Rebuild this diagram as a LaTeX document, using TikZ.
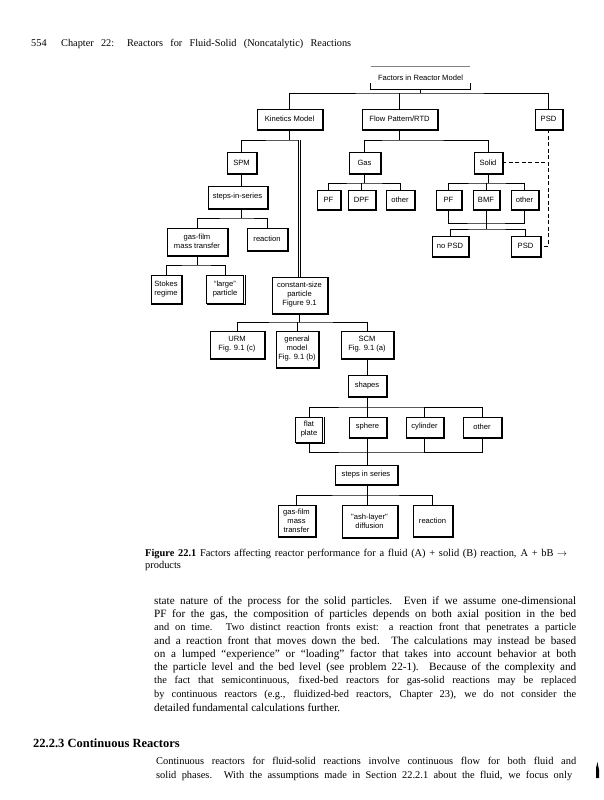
\documentclass[tikz,border=0pt]{standalone}
\usepackage{fontspec}
\setmainfont{Liberation Serif}
\newfontfamily\boxfont{Liberation Sans}
\newcommand\bxn[6]{\node[bx,minimum width=#4pt,minimum height=#5pt] (#1) at (#2,#3) {#6};}
\begin{document}
\begin{tikzpicture}[x=1pt,y=-1pt,
  bx/.style={draw,line width=0.8pt,inner sep=0pt,align=center,font=\boxfont\fontsize{7.6}{9}\selectfont},
  ln/.style={line width=0.8pt},
  dsh/.style={line width=0.8pt,dash pattern=on 4pt off 2.5pt},
  txt/.style={anchor=west,inner sep=0pt,font=\fontsize{11.2}{13}\selectfont},
  smalltxt/.style={anchor=west,inner sep=0pt,font=\fontsize{10.4}{12}\selectfont}]
\fill[white] (0,0) rectangle (603,800);
\useasboundingbox (0,0) rectangle (603,800);

% header
\node[anchor=west,inner sep=0pt,font=\fontsize{10.3}{12}\selectfont] (hdr) at (31,44)
  {\makebox[320pt][s]{554 \ Chapter 22: Reactors for Fluid-Solid (Noncatalytic) Reactions}};

% boxes
\node[inner sep=0pt,minimum width=99pt,minimum height=22pt,font=\boxfont\fontsize{7.6}{9}\selectfont] (factors) at (420.5,78) {Factors in Reactor Model};
\draw[gray,line width=1.2pt] (factors.north west) -- (factors.north east);
\draw[ln] ([yshift=6pt]factors.south west) -- (factors.south west) -- (factors.south east) -- ([yshift=6pt]factors.south east);

\bxn{kin}{289.5}{119}{65}{20}{Kinetics Model}
\bxn{flow}{399.5}{119}{75}{20}{Flow Pattern/RTD}
\bxn{psd1}{548.5}{119}{27}{20}{PSD}
\bxn{spm}{241.5}{162.5}{29}{21}{SPM}
\bxn{gas}{364.5}{162.5}{31}{21}{Gas}
\bxn{solid}{488}{162.5}{28}{21}{Solid}
\bxn{steps1}{237.5}{197}{59}{22}{steps-in-series}
\bxn{gpf}{328.5}{199.5}{23}{19}{PF}
\bxn{gdpf}{361.5}{199.5}{27}{19}{DPF}
\bxn{gother}{400}{199.5}{28}{19}{other}
\bxn{spf}{448.5}{199.5}{25}{19}{PF}
\bxn{sbmf}{486}{199.5}{26}{19}{BMF}
\bxn{sother}{524.5}{199.5}{27}{19}{other}
\bxn{nopsd}{450}{246}{36}{20}{no PSD}
\bxn{psd2}{525.5}{246}{29}{20}{PSD}
\bxn{gasfilm1}{197}{241.5}{60}{27}{gas-film\\mass transfer}
\bxn{reaction1}{267}{239}{40}{22}{reaction}
\bxn{stokes}{166}{289}{30}{28}{Stokes\\regime}
\bxn{large}{225}{289}{37}{28}{\textquotedblleft large\textquotedblright\\particle}
\bxn{csp}{299.5}{295}{55}{36}{constant-size\\particle\\Figure 9.1}
\bxn{urm}{237}{344.5}{54}{27}{URM\\Fig. 9.1 (c)}
\bxn{general}{297}{349}{42}{36}{general\\model\\Fig. 9.1 (b)}
\bxn{scm}{367}{344.5}{52}{27}{SCM\\Fig. 9.1 (a)}
\bxn{shapes}{367}{385.5}{38}{21}{shapes}
\bxn{flat}{309}{429.5}{27}{25}{flat\\plate}
\bxn{sphere}{367.5}{427}{37}{20}{sphere}
\bxn{cyl}{424.5}{427}{37}{20}{cylinder}
\bxn{other2}{482}{427}{38}{20}{other}
\bxn{steps2}{366}{474.5}{62}{19}{steps in series}
\bxn{gasfilm2}{296.5}{520.5}{37}{31}{gas-film\\mass\\transfer}
\bxn{ash}{369.5}{521}{55}{32}{\textquotedbl ash-layer\textquotedbl\\diffusion}
\bxn{reaction2}{432.5}{520.5}{39}{31}{reaction}

% scanned shadow on right and bottom edges
\foreach \n in {kin,flow,psd1,spm,gas,solid,steps1,gpf,gdpf,gother,spf,sbmf,sother,nopsd,psd2,gasfilm1,reaction1,stokes,large,csp,urm,general,scm,shapes,flat,sphere,cyl,other2,steps2,gasfilm2,ash,reaction2}
  \draw[line width=0.6pt] ([shift={(0.9pt,-0.6pt)}]\n.north east) -- ([shift={(0.9pt,-0.9pt)}]\n.south east) -- ([shift={(0.6pt,-0.9pt)}]\n.south west);

% connectors: top level
\coordinate (t0) at (420.5,93);
\draw[ln] (factors.south) -- (t0);
\draw[ln] (kin.north) |- (t0) -| (psd1.north);
\draw[ln] (flow.north) -- (flow.north |- t0);
% kinetics branch
\coordinate (k0) at (289.5,140);
\draw[ln] (kin.south) -- (k0);
\draw[ln] (spm.north) |- (k0) -- (k0 -| csp.north) -- ++(1.5,0);
\draw[ln,double,double distance=1.2pt] (k0 -| csp.north) -- (csp.north);
\draw[ln] (spm.south) -- (spm.south |- steps1.north);
\coordinate (s0) at (241.5,218);
\draw[ln] (s0 |- steps1.south) -- (s0);
\draw[ln] (gasfilm1.north) |- (s0) -| (reaction1.north);
\coordinate (g0) at (197,265);
\draw[ln] (gasfilm1.south) -- (g0);
\draw[ln] (stokes.north) |- (g0) -| (large.north);
\coordinate (c0) at (299.5,322);
\draw[ln] (csp.south) -- (c0);
\draw[ln] (urm.north) |- (c0) -| (scm.north);
\draw[ln] (general.north) -- (general.north |- c0);
\draw[ln] (scm.south) -- (shapes.north);
\coordinate (h0) at (367,407);
\draw[ln] (shapes.south) -- (h0);
\draw[ln] (flat.north) |- (h0) -| (other2.north);
\draw[ln] (sphere.north) -- (sphere.north |- h0);
\draw[ln] (cyl.north) -- (cyl.north |- h0);
\coordinate (h1) at (367,452);
\draw[ln] (flat.south) |- (h1) -| (other2.south);
\draw[ln] (sphere.south) -- (sphere.south |- h1);
\draw[ln] (cyl.south) -- (cyl.south |- h1);
\draw[ln] (h1) -- (steps2.north -| h1);
\coordinate (p0) at (367,495);
\draw[ln] (steps2.south -| p0) -- (p0);
\draw[ln] (gasfilm2.north) |- (p0) -| (reaction2.north);
\draw[ln] (ash.north -| p0) -- (p0);
% flow branch
\coordinate (f0) at (399.5,140);
\draw[ln] (flow.south) -- (f0);
\draw[ln] (gas.north) |- (f0) -| (solid.north);
\coordinate (ga0) at (364.5,183);
\draw[ln] (gas.south) -- (ga0);
\draw[ln] (gpf.north) |- (ga0) -| (gother.north);
\draw[ln] (gdpf.north) -- (gdpf.north |- ga0);
\coordinate (so0) at (488,183);
\draw[ln] (solid.south) -- (so0);
\draw[ln] (spf.north) |- (so0) -| (sother.north);
\draw[ln] (sbmf.north) -- (sbmf.north |- so0);
\coordinate (so1) at (486,223);
\draw[ln] (spf.south) |- (so1) -| (sother.south);
\draw[ln] (sbmf.south) -- (so1);
\coordinate (so2) at (486,229);
\draw[ln] (so1) -- (so2);
\draw[ln] (nopsd.north) |- (so2) -| (psd2.north);
% dashed PSD links
\draw[dsh] (solid.east) -- (solid.east -| psd1.south);
\draw[dsh] (psd1.south) |- (psd2.east);

% caption
\node[anchor=west,inner sep=0pt,font=\fontsize{10.4}{12}\selectfont] (cap1) at (145,553.5)
  {\makebox[422pt][s]{\textbf{Figure 22.1} Factors affecting reactor performance for a fluid (A) + solid (B) reaction, A + bB $\rightarrow$}};
\node[anchor=west,inner sep=0pt,font=\fontsize{10.4}{12}\selectfont] (cap2) at (145,566) {products};

% body text
\node[txt] (b1) at (154,601.5) {\makebox[422pt][s]{state nature of the process for the solid particles. Even if we assume one-dimensional}};
\node[txt] (b2) at (154,614.8) {\makebox[422pt][s]{PF for the gas, the composition of particles depends on both axial position in the bed}};
\node[smalltxt] (b3) at (154,628.1) {\makebox[422pt][s]{and on time. Two distinct reaction fronts exist: a reaction front that penetrates a particle}};
\node[txt] (b4) at (154,641.4) {\makebox[422pt][s]{and a reaction front that moves down the bed. The calculations may instead be based}};
\node[txt] (b5) at (154,654.7) {\makebox[422pt][s]{on a lumped \textquotedblleft experience\textquotedblright\ or \textquotedblleft loading\textquotedblright\ factor that takes into account behavior at both}};
\node[txt] (b6) at (154,668) {\makebox[422pt][s]{the particle level and the bed level (see problem 22-1). Because of the complexity and}};
\node[smalltxt] (b7) at (154,681.3) {\makebox[422pt][s]{the fact that semicontinuous, fixed-bed reactors for gas-solid reactions may be replaced}};
\node[smalltxt] (b8) at (154,694.6) {\makebox[422pt][s]{by continuous reactors (e.g., fluidized-bed reactors, Chapter 23), we do not consider the}};
\node[txt] (b9) at (154,707.9) {detailed fundamental calculations further.};

% heading
\node[anchor=west,inner sep=0pt,font=\bfseries\fontsize{12.5}{14}\selectfont] (hd) at (33,743) {22.2.3 Continuous Reactors};
\node[smalltxt] (c1) at (156,761) {\makebox[420pt][s]{Continuous reactors for fluid-solid reactions involve continuous flow for both fluid and}};
\node[smalltxt] (c2) at (156,776) {\makebox[416pt][s]{solid phases. With the assumptions made in Section 22.2.1 about the fluid, we focus only}};
% scan mark
\fill (596,768) -- (597.5,762) -- (599,770) -- (599,778) -- (596,778) -- cycle;
\end{tikzpicture}
\end{document}
